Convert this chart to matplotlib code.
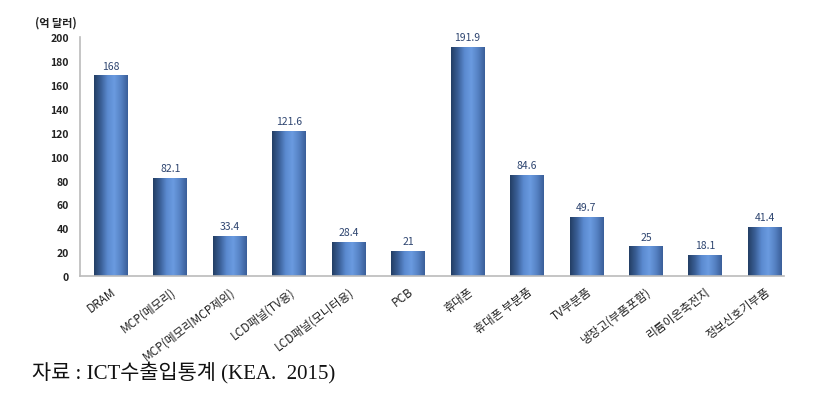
import numpy as np
import matplotlib.pyplot as plt
from matplotlib.colors import LinearSegmentedColormap

plt.rcParams['font.family'] = ['Noto Sans CJK KR', 'DejaVu Sans']

categories = ['DRAM', 'MCP(메모리)', 'MCP(메모리MCP제외)', 'LCD패널(TV용)', 'LCD패널(모니터용)',
              'PCB', '휴대폰', '휴대폰 부분품', 'TV부분품', '냉장고(부품포함)',
              '리튬이온축전지', '정보신호기부품']
values = [168, 82.1, 33.4, 121.6, 28.4, 21, 191.9, 84.6, 49.7, 25, 18.1, 41.4]
value_labels = ['168', '82.1', '33.4', '121.6', '28.4', '21', '191.9', '84.6', '49.7', '25', '18.1', '41.4']
yticks = [0, 20, 40, 60, 80, 100, 120, 140, 160, 180, 200]

fig = plt.figure(figsize=(8.2, 4.1), dpi=100)
ax = fig.add_axes([0.0976, 0.324, 0.859, 0.583])

# cylinder-like shading across each bar
cmap = LinearSegmentedColormap.from_list('cyl', ['#243f66', '#3a5f96', '#5b8ad0', '#6a9be0', '#5682c4', '#3a5f9a'])
grad = np.linspace(0, 1, 64).reshape(1, -1)

x = np.arange(len(categories))
width = 0.57
bars = ax.bar(x, values, width=width, color='none', edgecolor='none', zorder=2)
for b in bars:
    x0, w, h = b.get_x(), b.get_width(), b.get_height()
    im = ax.imshow(grad, extent=[x0, x0 + w, 0, h], aspect='auto', cmap=cmap, zorder=2)
    im.set_clip_path(b)

for xi, v, lab in zip(x, values, value_labels):
    ax.text(xi, v + 4, lab, ha='center', va='bottom', fontsize=7.5, color='#2e4570')

ax.set_xlim(-0.52, 11.33)
ax.set_ylim(0, 200)
ax.set_yticks(yticks)
ax.set_yticklabels([str(t) for t in yticks], fontsize=7.5, fontweight='bold', color='#222222')
ax.set_xticks(x)
ax.set_xticklabels(categories, rotation=37, ha='right', rotation_mode='anchor', fontsize=8.5, color='#222222')
ax.tick_params(axis='both', length=0, pad=8)
ax.tick_params(axis='x', pad=6)

for s in ['top', 'right']:
    ax.spines[s].set_visible(False)
for s in ['left', 'bottom']:
    ax.spines[s].set_color('#bbbbbb')
    ax.spines[s].set_linewidth(1.2)

fig.text(0.043, 0.935, '(억 달러)', fontsize=8, fontweight='bold', color='#222222')
fig.text(0.039, 0.075, '자료 : ICT수출입통계 (KEA.  2015)', fontsize=15,
         family=['Liberation Serif', 'Noto Sans CJK KR'], color='#111111')

fig.savefig('out.png', dpi=100)
